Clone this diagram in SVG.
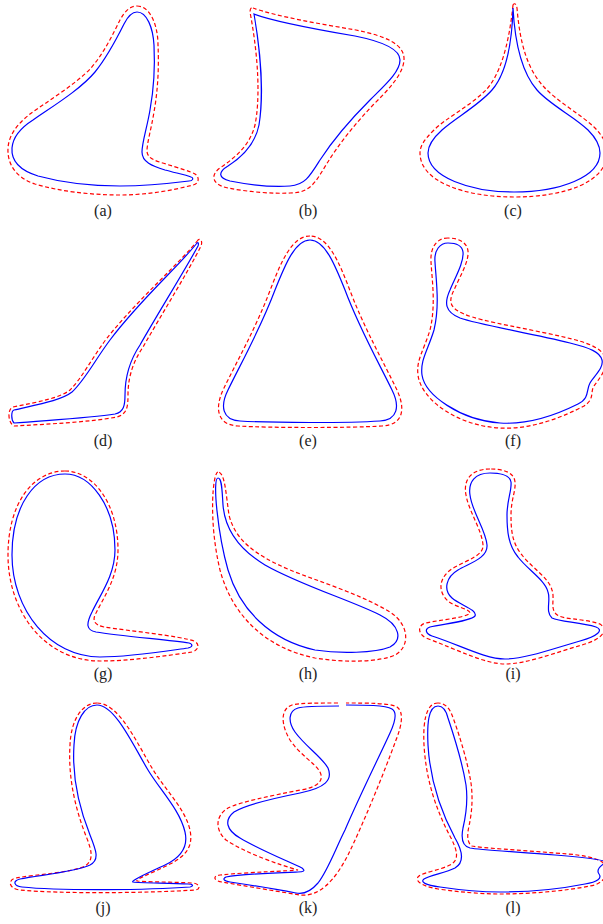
<svg xmlns="http://www.w3.org/2000/svg" width="603" height="924" viewBox="0 0 603 924">
<style>
.b{fill:none;stroke:#0000ff;stroke-width:1.2}
.r{fill:none;stroke:#ff0000;stroke-width:1.2;stroke-dasharray:4 2.5}
.lbl{font-family:"Liberation Serif","DejaVu Serif",serif;font-size:16px;text-anchor:middle;fill:#222}
</style>
<rect width="603" height="924" fill="#fff"/>
<g id="a">
<path class="r" d="M137,6 C150,6 158,25 158,45 C159,66 158,90 154,112 C151,130 147,143 147,151 C147,158 155,161 166,164 C178,168 190,171 195,174 C200,177 199,184 193,185 C170,191 145,195 120,195 C90,195 58,191 35,184 C17,178 7,165 8,148 C9,133 20,122 30,114 C48,101 76,84 91,68 C104,53 113,34 120,20 C125,11 130,6 137,6 Z"/>
<path class="b" d="M137,12 C147,12 153,28 154,45 C155,65 154,88 150,110 C147,128 142,142 142,152 C142,162 152,166 165,170 C176,173 186,175 191,177 C194,178 193,181 189,181 C165,184 140,186 120,186 C90,186 60,182 38,176 C22,171 11,162 12,148 C13,136 22,127 33,120 C50,108 80,90 95,72 C108,56 118,36 124,24 C128,16 132,12 137,12 Z"/>
<text class="lbl" x="103" y="216">(a)</text>
</g>
<g id="b">
<path class="r" d="M253,8 C275,16 320,24 356,30 C385,36 405,44 404,60 C403,75 388,90 373,105 C355,124 338,145 326,165 C315,183 310,193 290,193 C275,194 248,192 228,188 C212,185 210,175 220,168 C236,157 250,145 255,125 C260,100 259,60 250,12 C250,8 252,7 253,8 Z"/>
<path class="b" d="M254,14 C275,22 320,30 355,36 C380,41 400,48 400,60 C400,72 385,85 370,100 C350,120 333,140 320,160 C310,176 305,185 290,186 C275,187 250,185 230,181 C218,178 218,172 228,166 C242,157 255,145 259,125 C263,100 262,60 254,14 Z"/>
<text class="lbl" x="308" y="216">(b)</text>
</g>
<g id="c">
<path class="r" d="M513,5 C509,45 500,75 486,90 C470,106 446,118 434,130 C424,140 420,146 420,153 C420,182 465,197 514,197 C565,197 607,182 607,153 C607,143 602,135 594,127 C580,114 558,102 544,87 C528,70 520,45 517,8 C516,3 514,3 513,5 Z"/>
<path class="b" d="M513,8 C512,45 505,75 492,90 C478,106 455,118 442,130 C432,139 428,146 428,153 C428,177 470,192 514,192 C560,192 600,177 600,153 C600,145 596,138 588,130 C575,117 550,105 537,90 C523,74 515,45 513,8 Z"/>
<text class="lbl" x="513" y="216">(c)</text>
</g>
<g id="d">
<path class="r" d="M198,240 C181,262 140,297 107,338 C92,358 82,378 70,390 C60,398 38,402 13,407 C7,409 8,423 14,426 C50,424 90,422 117,417 C127,414 128,407 128,395 C128,377 133,362 143,347 C163,312 188,272 201,246 C203,241 200,238 198,240 Z"/>
<path class="b" d="M197,243 C180,265 140,300 110,340 C95,360 85,380 72,392 C62,400 40,404 14,410 C11,411 11,420 14,423 C50,420 90,418 115,414 C124,412 125,405 125,395 C125,375 130,360 140,345 C160,310 185,270 198,246 C199,243 198,242 197,243 Z"/>
<text class="lbl" x="103" y="446">(d)</text>
</g>
<g id="e">
<path class="r" d="M310,236 C292,236 281,262 271,288 C256,328 236,363 224,388 C214,408 217,425 238,426 C270,428 350,428 382,426 C404,425 406,408 396,388 C384,363 364,328 349,288 C339,262 328,236 310,236 Z"/>
<path class="b" d="M310,240 C295,240 285,265 275,290 C260,330 240,365 228,390 C220,406 222,420 240,421 C270,423 350,423 380,421 C398,420 400,406 392,390 C380,365 360,330 345,290 C335,265 325,240 310,240 Z"/>
<text class="lbl" x="308" y="446">(e)</text>
</g>
<g id="f">
<path class="r" d="M448,238 C437,238 430,247 431,262 C432,280 436,305 430,330 C424,350 416,360 418,375 C421,400 458,426 500,428 C532,430 565,416 584,406 C595,399 590,392 594,386 C598,380 606,372 606,360 C604,350 592,344 572,339 C532,329 482,322 464,314 C450,308 448,302 454,290 C460,276 469,262 468,251 C467,242 458,238 448,238 Z"/>
<path class="b" d="M448,243 C440,243 434,250 435,262 C436,280 440,305 434,330 C428,350 420,360 422,375 C425,395 460,420 500,423 C530,425 560,413 578,404 C590,398 586,390 590,383 C594,376 604,368 602,360 C600,352 590,348 570,343 C530,333 480,325 460,318 C445,312 444,303 450,290 C456,276 464,262 463,252 C462,245 455,243 448,243 Z"/>
<text class="lbl" x="513" y="446">(f)</text>
</g>
<g id="g">
<path class="r" d="M65,471 C93,471 118,503 118,550 C118,577 104,597 96,613 C92,620 94,625 104,627 C130,631 180,636 194,641 C200,644 199,650 192,652 C165,656 130,661 100,661 C45,661 8,612 8,555 C8,503 33,471 65,471 Z"/>
<path class="b" d="M65,474 C90,474 115,505 115,550 C115,575 100,595 92,612 C86,624 86,630 96,632 C120,636 170,640 189,643 C193,644 193,647 188,648 C160,652 130,657 100,657 C50,657 12,610 12,555 C12,505 35,474 65,474 Z"/>
<text class="lbl" x="103" y="679">(g)</text>
</g>
<g id="h">
<path class="r" d="M218,472 C213,472 208,520 220,570 C232,615 265,648 315,658 C345,663 380,662 395,655 C410,647 410,625 390,612 C360,594 320,582 290,570 C255,555 235,540 229,515 C226,495 225,472 218,472 Z"/>
<path class="b" d="M218,478 C222,478 222,490 223,505 C225,530 240,550 265,565 C300,585 350,600 380,615 C400,625 403,640 390,647 C375,653 340,654 315,650 C270,640 240,610 228,570 C218,535 212,478 218,478 Z"/>
<text class="lbl" x="308" y="679">(h)</text>
</g>
<g id="i">
<path class="r" d="M490,469 C471,469 463,480 466,495 C469,512 482,530 483,545 C484,555 468,560 455,567 C440,575 436,590 448,601 C455,607 470,609 470,613 C466,618 438,620 426,623 C417,625 418,634 426,638 C458,650 485,664 505,664 C527,664 557,652 582,645 C600,640 610,631 600,624 C582,618 562,620 556,614 C550,608 555,598 552,590 C549,578 532,568 522,555 C512,543 511,530 511,515 C511,500 516,490 515,482 C514,472 503,469 490,469 Z"/>
<path class="b" d="M490,473 C475,473 468,482 470,495 C472,512 486,530 487,545 C488,558 470,563 458,570 C446,577 443,590 452,598 C460,605 478,610 475,616 C470,622 440,624 430,627 C424,629 426,634 432,636 C460,645 485,659 505,659 C525,659 555,648 580,641 C598,636 604,630 596,627 C580,622 560,622 552,618 C545,612 551,600 548,592 C545,580 528,570 518,557 C508,545 507,530 507,515 C507,500 512,490 511,482 C510,475 500,473 490,473 Z"/>
<text class="lbl" x="513" y="679">(i)</text>
</g>
<g id="j">
<path class="r" d="M97,703 C82,703 71,720 70,745 C68,777 75,808 86,836 C92,851 94,860 85,866 C70,873 38,874 16,878 C7,880 9,889 20,890 C60,894 150,893 195,890 C202,889 199,883 192,883 C175,882 145,882 137,881 C135,879 155,872 170,864 C188,855 193,845 190,830 C185,808 165,790 152,768 C137,743 119,703 97,703 Z"/>
<path class="b" d="M97,705 C85,705 75,720 74,745 C72,775 78,805 90,835 C96,850 100,860 90,865 C75,872 40,875 20,879 C12,881 14,886 22,887 C60,891 150,890 190,887 C194,886 193,884 188,884 C170,883 140,883 133,882 C130,881 150,872 165,865 C182,857 188,845 185,832 C180,810 160,790 148,770 C133,745 115,705 97,705 Z"/>
<text class="lbl" x="103" y="913">(j)</text>
</g>
<g id="k">
<path class="r" d="M338,703 C318,703 300,703 292,705 C280,709 281,725 290,740 C300,755 315,763 320,772 C325,782 315,788 300,790 C270,796 240,802 228,808 C215,816 215,830 226,840 C245,853 280,865 298,870 C290,871 250,872 220,875 C212,876 214,881 222,882 C245,886 275,891 300,895 C320,897 335,880 348,855 C365,820 385,770 396,740 C402,725 404,712 397,707 C390,703 368,703 346,703"/>
<path class="b" d="M339,706 C320,706 305,706 298,708 C288,711 288,722 295,732 C305,746 322,757 328,768 C333,780 325,788 300,793 C270,799 245,805 234,812 C224,820 226,830 240,838 C260,850 290,862 302,868 C306,871 303,872 298,872 C270,873 240,874 226,877 C222,879 224,881 230,882 C250,885 275,889 296,893 C305,895 312,890 318,883 C328,870 335,850 345,830 C360,795 380,755 390,733 C396,720 397,712 392,709 C385,705 365,705 346,705"/>
<text class="lbl" x="308" y="913">(k)</text>
</g>
<g id="l">
<path class="r" d="M438,703 C425,703 423,725 424,745 C426,780 436,810 451,838 C457,850 460,860 450,865 C440,870 425,872 419,876 C414,880 420,886 438,889 C460,892 480,894 500,894 C530,894 565,891 590,886 C604,884 608,874 606,868 C606,860 590,855 555,853 C520,850 480,848 472,846 C467,843 467,835 469,826 C472,812 473,798 471,783 C467,758 457,728 452,715 C449,707 444,703 438,703 Z"/>
<path class="b" d="M438,706 C428,706 427,725 428,745 C430,780 440,810 455,838 C462,850 465,862 455,868 C445,873 430,875 424,879 C420,882 425,885 440,887 C460,890 480,892 500,892 C530,892 560,889 585,884 C598,882 602,878 599,874 C596,870 600,866 606,862 C605,860 590,858 555,855 C520,852 480,850 470,848 C462,846 461,838 463,828 C466,815 468,800 466,785 C462,760 452,730 448,718 C446,710 442,706 438,706 Z"/>
<text class="lbl" x="513" y="913">(l)</text>
</g>
</svg>
